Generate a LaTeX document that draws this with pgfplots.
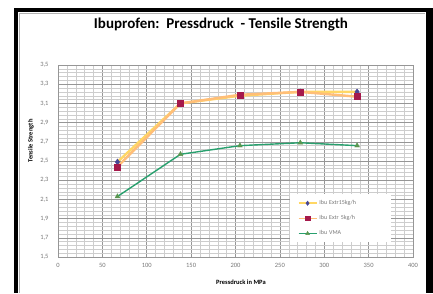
\documentclass[border=0pt]{standalone}
\usepackage{pgfplots}
\pgfplotsset{compat=1.18}
\usepackage{fontspec}
\setmainfont{Carlito}
\definecolor{gridmaj}{RGB}{150,150,150}
\definecolor{gridmin}{RGB}{205,205,205}
\definecolor{yel}{RGB}{255,215,100}
\definecolor{org}{RGB}{255,190,120}
\definecolor{navy}{RGB}{70,70,150}
\definecolor{crim}{RGB}{165,25,75}
\definecolor{grn}{RGB}{40,160,110}
\definecolor{grnm}{RGB}{90,150,80}
\definecolor{ticktxt}{RGB}{120,120,120}
\begin{document}
\begin{tikzpicture}
\useasboundingbox (0pt,0pt) rectangle (433pt,293pt);
\fill[white] (0pt,0pt) rectangle (433pt,293pt);
% frame
\fill[black] (14pt,0pt) rectangle (18pt,285pt);
\fill[black] (14pt,281pt) rectangle (433pt,285pt);
\fill[black] (426pt,0pt) rectangle (433pt,285pt);
\draw[gray!60,line width=0.6pt] (19.5pt,0pt) -- (19.5pt,280pt) -- (425pt,280pt);
\node[font=\fontsize{15}{17}\selectfont\bfseries] at (221pt,268pt) {Ibuprofen:\ \ Pressdruck\ \ - Tensile Strength};
\node[font=\fontsize{6.5}{7}\selectfont\bfseries] at (241pt,11pt) {Pressdruck in MPa};
\node[font=\fontsize{6.5}{7}\selectfont\bfseries, rotate=90] at (31pt,152pt) {Tensile Strength};
\begin{axis}[
  at={(58pt,36pt)}, anchor=south west,
  scale only axis, width=355pt, height=192pt,
  xmin=0, xmax=400, ymin=1.5, ymax=3.5,
  xtick={0,50,...,400},
  ytick={1.5,1.7,...,3.5},
  minor x tick num=4, minor y tick num=4,
  grid=both,
  major grid style={gridmaj, line width=0.6pt},
  minor grid style={gridmin, line width=0.4pt},
  axis line style={gridmaj},
  tick style={draw=none},
  tick label style={font=\fontsize{6.5}{7}\selectfont, text=ticktxt},
  /pgf/number format/assume math mode=true,
  /pgf/number format/use comma,
  /pgf/number format/fixed,
  /pgf/number format/precision=1,
  /pgf/number format/fixed zerofill,
  xticklabel style={/pgf/number format/precision=0,/pgf/number format/fixed zerofill=false, yshift=-3pt},
  yticklabel style={xshift=-6pt},
  legend style={at={(axis cs:261,1.65)}, anchor=south west, draw=none, fill=white,
    font=\fontsize{6}{7}\selectfont, row sep=5.5pt, inner xsep=8pt, inner ysep=4pt,
    text=ticktxt, nodes={text width=62pt, align=left}},
  legend cell align=left,
  legend image code/.code={\draw[mark repeat=2,mark phase=2,#1] plot coordinates {(0pt,0pt) (9pt,0pt) (18pt,0pt)};},
  legend image post style={line width=1.5pt, mark size=2.2pt},
]
\addplot[yel, line width=2.4pt, mark=diamond*, mark size=3pt, mark options={fill=navy,draw=navy,line width=0.4pt}]
 coordinates {(67,2.49) (138,3.10) (205,3.18) (273,3.22) (337,3.22)};
\addlegendentry{Ibu Extr15kg/h}
\addplot[org, line width=2.4pt, mark=square*, mark size=3pt, mark options={fill=crim,draw=crim,line width=0.4pt}]
 coordinates {(67,2.44) (138,3.10) (205,3.19) (273,3.22) (337,3.17)};
\addlegendentry{Ibu Extr 5kg/h}
\addplot[grn, line width=1.4pt, mark=triangle*, mark size=2.8pt, mark options={fill=grnm,draw=grnm,line width=0.4pt}]
 coordinates {(67,2.13) (138,2.57) (205,2.66) (273,2.69) (337,2.66)};
\addlegendentry{Ibu VMA}
\end{axis}
\end{tikzpicture}
\end{document}
